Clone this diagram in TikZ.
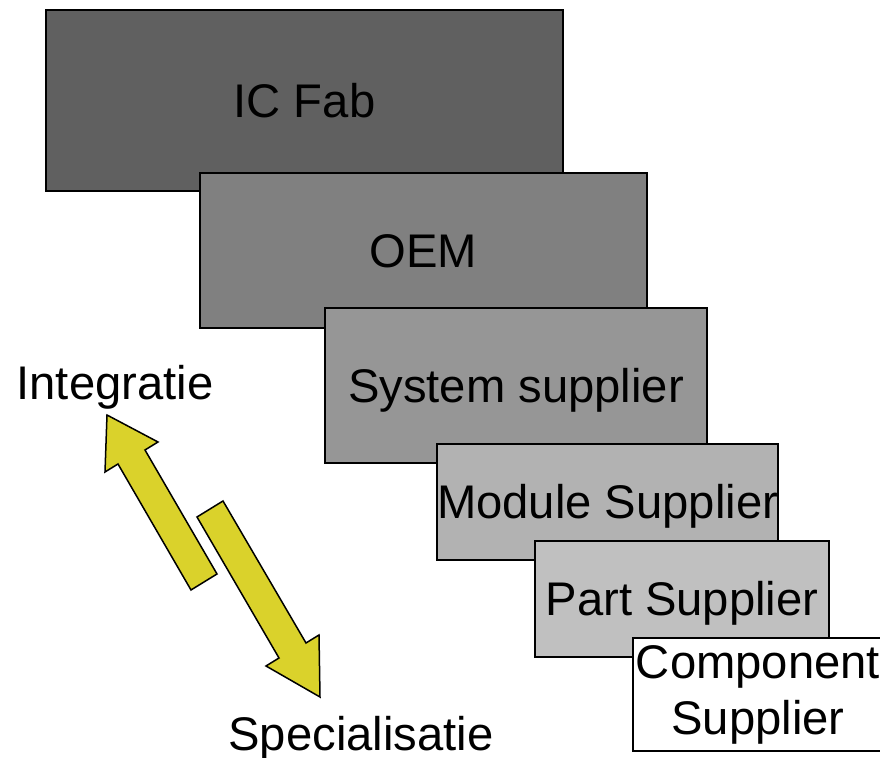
\documentclass[tikz,border=0pt]{standalone}
\usepackage{fontspec}
\setmainfont{Liberation Sans}
\definecolor{fabgray}{HTML}{606060}
\definecolor{oemgray}{HTML}{808080}
\definecolor{sysgray}{HTML}{969696}
\definecolor{modgray}{HTML}{B2B2B2}
\definecolor{partgray}{HTML}{C0C0C0}
\definecolor{arrowyellow}{HTML}{DAD22B}

\begin{document}
\begin{tikzpicture}[x=0.5pt,y=-0.5pt,font=\fontsize{23.6}{28}\selectfont,
    blk/.style={draw,line width=1pt,inner sep=0pt,anchor=north west},
    oneline/.style={text height=17pt,text depth=0pt},
    yarrow/.style={draw,fill=arrowyellow,line width=0.75pt,line join=miter}]
            \useasboundingbox (0,0) rectangle (880,758);
            % staircase of boxes
            \node[blk,oneline,fill=fabgray,minimum width=258.5pt,minimum height=90.5pt] (fab) at (45,9) {IC Fab};
            \node[blk,oneline,fill=oemgray,minimum width=223.5pt,minimum height=77.5pt] (oem) at (199,172) {OEM};
            \node[blk,oneline,fill=sysgray,minimum width=191pt,minimum height=77.5pt] (sys) at (324,307) {System supplier};
            \node[blk,oneline,fill=modgray,minimum width=170.5pt,minimum height=58pt] (mod) at (436,443) {Module Supplier};
            \node[blk,oneline,fill=partgray,minimum width=147pt,minimum height=58pt] (part) at (534,540) {Part Supplier};
            \node[blk,fill=white,align=center,minimum width=125pt,minimum height=56.5pt] (comp) at (632,637) {Component\\Supplier};
            % block arrows
            \draw[yarrow] (107,415)--(158,442)--(145,450)--(217,574)--(191,590)--(118,464)--(105,472)--cycle;
            \draw[yarrow] (197,517)--(223,501)--(306,643)--(319,635)--(320,697)--(266,666)--(279,658)--cycle;
            \node[oneline,inner sep=0pt] (integ) at (115,383) {Integratie};
            \node[oneline,inner sep=0pt] (spec) at (361,734) {Specialisatie};
        \end{tikzpicture}
\end{document}
